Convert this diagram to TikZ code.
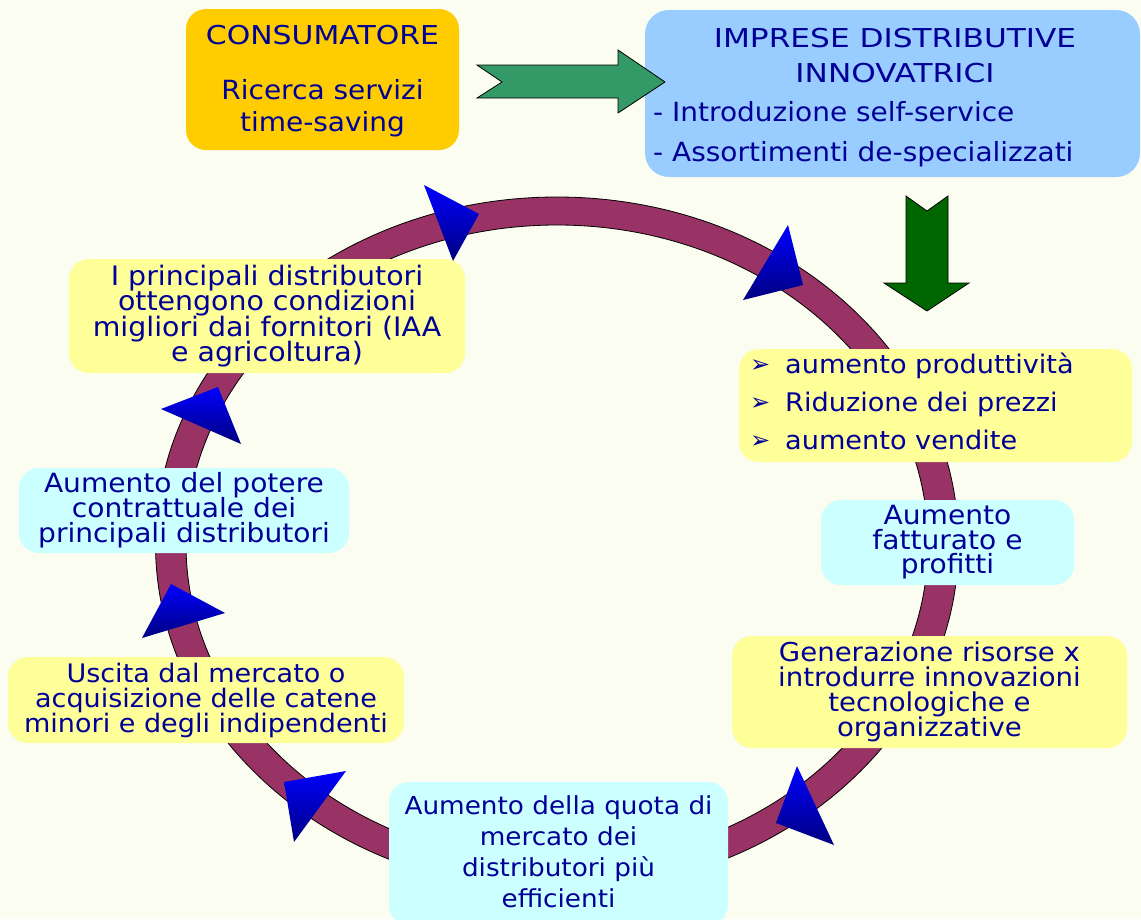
\documentclass[tikz,border=0pt]{standalone}
\usepackage{fontspec}
\setmainfont{DejaVu Sans}[FakeStretch=1.06]
\newfontfamily\capsfont{DejaVu Sans}[FakeStretch=1.15]
\newfontfamily\widecapsfont{DejaVu Sans}[FakeStretch=1.2]
\newfontfamily\bulletfont{DejaVu Sans}
\definecolor{paper}{RGB}{251,253,240}
\definecolor{ink}{RGB}{0,0,150}
\definecolor{ringfill}{RGB}{153,51,102}
\definecolor{gold}{RGB}{255,204,0}
\definecolor{skyblue}{RGB}{153,204,255}
\definecolor{paleyellow}{RGB}{255,255,153}
\definecolor{palecyan}{RGB}{204,255,255}
\definecolor{seagreen}{RGB}{51,153,102}
\definecolor{darkgreen}{RGB}{0,102,0}
\definecolor{tipblue}{RGB}{0,0,255}
\definecolor{tipnavy}{RGB}{0,0,128}
\newcommand{\arrowbullet}{\makebox[35pt][l]{\raisebox{0.5pt}{\bulletfont\fontsize{24}{24}\selectfont ➢}}}

\begin{document}
% fixed baseline spacing even for tall lines
\lineskiplimit=-50pt
\lineskip=0pt
\begin{tikzpicture}[x=1pt,y=-1pt,
  card/.style={rounded corners=20pt, inner sep=0pt, draw=none, text=ink, align=center},
  lines/.style 2 args={font=\fontsize{#1}{#2}\selectfont},
  label/.style={inner sep=0pt, text=ink},
  blockarrow/.style={draw=black, line width=0.8pt, line join=miter},
  tip/.style={top color=tipblue, bottom color=tipnavy}
]
% page
\fill[paper] (0,0) rectangle (1141,919);
\useasboundingbox (0,0) rectangle (1141,919);

% the cycle ring
\coordinate (hub) at (557,544);
\draw[black, line width=0.8pt, fill=ringfill, even odd rule]
  (hub) ellipse [x radius=401.5pt, y radius=347pt]
  (hub) ellipse [x radius=371pt, y radius=319pt];

% arrowheads along the ring
\shade[tip] (424,185) -- (479,214) -- (453,261) -- cycle;
\shade[tip] (788,225) -- (803,285) -- (743,300) -- cycle;
\shade[tip] (161,409) -- (218,387) -- (241,444) -- cycle;
\shade[tip] (171,584) -- (225,613) -- (142,638) -- cycle;
\shade[tip] (284,782) -- (346,771) -- (294,842) -- cycle;
\shade[tip] (797,766) -- (834,845) -- (776,823) -- cycle;

% boxes
\node[card, fill=gold, minimum width=273pt, minimum height=141pt] (cons) at (322.5,79.5) {};
\node[label, lines={26.4}{32}, align=center] (consT) at (322.5,81)
  {{\capsfont\fontsize{26}{32}\selectfont CONSUMATORE}\\[23pt]Ricerca servizi\\time-saving};

\node[card, fill=skyblue, minimum width=495pt, minimum height=167pt,
      rounded corners=24pt] (impr) at (892.5,93.5) {};
\node[label, lines={26}{35}, align=center] (imprT) at (895,56)
  {\widecapsfont IMPRESE DISTRIBUTIVE\\\widecapsfont INNOVATRICI};
\node[label, lines={26.4}{40}, align=left, anchor=west] (imprL) at (653,134)
  {- Introduzione self-service\\- Assortimenti de-specializzati};

\node[card, fill=paleyellow, minimum width=393pt, minimum height=113pt] (gains) at (935.5,405.5) {};
\node[label, lines={25.6}{38}, align=left, anchor=west] (gainsL) at (750,401)
  {\arrowbullet aumento produttività\\
   \arrowbullet Riduzione dei prezzi\\
   \arrowbullet aumento vendite};

\node[card, fill=palecyan, minimum width=253pt, minimum height=85pt, lines={26.5}{24.5}] (fatt) at (947.5,542.5)
  {Aumento\\fatturato e\\profitti};

\node[card, fill=paleyellow, minimum width=395pt, minimum height=112pt, lines={26}{25}] (gen) at (929.5,692)
  {Generazione risorse x\\introdurre innovazioni\\tecnologiche e\\organizzative};

\node[card, fill=palecyan, minimum width=339pt, minimum height=143pt] (quota) at (558.5,853.5) {};
\node[label, lines={24.8}{31}, align=center] (quotaT) at (558.5,851.5)
  {Aumento della quota di\\mercato dei\\distributori più\\efficienti};

\node[card, fill=paleyellow, minimum width=396pt, minimum height=86pt, lines={25.5}{25}] (usc) at (206,700)
  {Uscita dal mercato o\\acquisizione delle catene\\minori e degli indipendenti};

\node[card, fill=palecyan, minimum width=330pt, minimum height=85pt, lines={26.5}{25}] (pot) at (184,510.5)
  {Aumento del potere\\contrattuale dei\\principali distributori};

\node[card, fill=paleyellow, minimum width=396pt, minimum height=114pt, lines={26.8}{25.5}] (princ) at (267,316)
  {I principali distributori\\ottengono condizioni\\migliori dai fornitori (IAA\\e agricoltura)};

% block arrows between the top boxes
\draw[blockarrow, fill=seagreen]
  (477,65) -- (618,65) -- (618,50) -- (665,82) -- (618,113) -- (618,98)
  -- (477,98) -- (502,82) -- cycle;
\draw[blockarrow, fill=darkgreen]
  (906,196) -- (927,211) -- (948,196) -- (948,283) -- (969,283)
  -- (927,311) -- (884,283) -- (906,283) -- cycle;
\end{tikzpicture}
\end{document}
